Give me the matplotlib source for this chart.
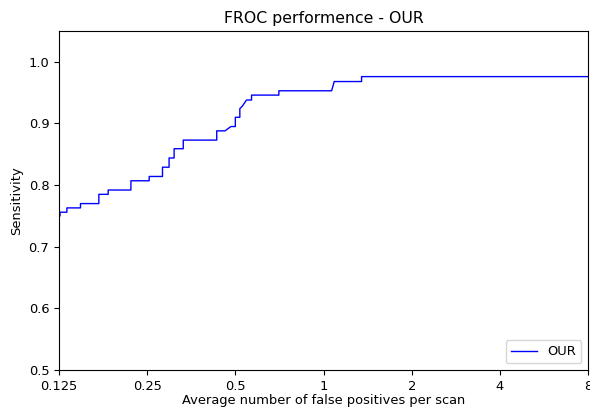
import matplotlib
matplotlib.use("Agg")
import matplotlib.pyplot as plt

# FROC curve points (average false positives per scan, sensitivity)
fps = [0.125, 0.126, 0.126, 0.133, 0.133, 0.148, 0.148, 0.171, 0.171, 0.184,
       0.184, 0.220, 0.220, 0.254, 0.254, 0.282, 0.282, 0.297, 0.297, 0.309,
       0.309, 0.332, 0.332, 0.432, 0.432, 0.461, 0.483, 0.500, 0.500, 0.518,
       0.518, 0.528, 0.546, 0.551, 0.568, 0.568, 0.704, 0.704, 1.066, 1.088,
       1.349, 1.349, 8.0]
sens = [0.749, 0.750, 0.756, 0.756, 0.763, 0.763, 0.770, 0.770, 0.785, 0.785,
        0.792, 0.792, 0.807, 0.807, 0.814, 0.814, 0.829, 0.829, 0.844, 0.844,
        0.859, 0.859, 0.873, 0.873, 0.888, 0.888, 0.895, 0.895, 0.910, 0.910,
        0.924, 0.928, 0.938, 0.938, 0.938, 0.946, 0.946, 0.953, 0.953, 0.968,
        0.968, 0.976, 0.976]

xticks = [0.125, 0.25, 0.5, 1, 2, 4, 8]
xlabels = ["0.125", "0.25", "0.5", "1", "2", "4", "8"]

plt.rcParams["font.size"] = 9.4

fig = plt.figure(figsize=(5.9, 4.08), dpi=100)
ax = fig.add_axes([59 / 590, 38 / 408, 529 / 590, 339 / 408])

ax.plot(fps, sens, color="blue", linewidth=1, label="OUR")

ax.set_xscale("log", base=2)
ax.set_xlim(0.125, 8)
ax.set_ylim(0.5, 1.05)
ax.set_xticks(xticks)
ax.set_xticklabels(xlabels)
ax.minorticks_off()

ax.set_title("FROC performence - OUR", fontsize=11.3)
ax.set_xlabel("Average number of false positives per scan", labelpad=1)
ax.set_ylabel("Sensitivity")
ax.legend(loc="lower right")

fig.savefig("out.png", dpi=100)
